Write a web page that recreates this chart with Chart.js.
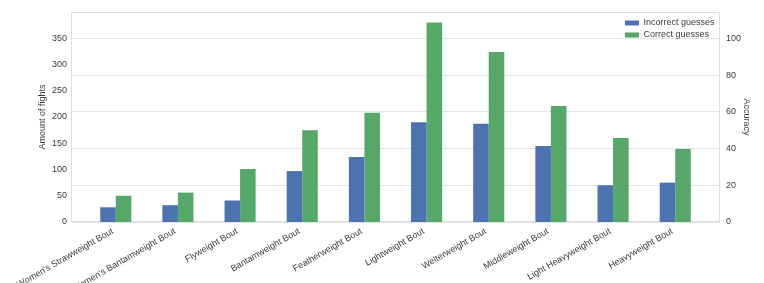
<!DOCTYPE html>
<html>
<head>
<meta charset="utf-8">
<script src="https://cdn.jsdelivr.net/npm/chart.js@4"></script>
<style>
  html, body { margin: 0; padding: 0; background: #fff; }
  canvas { display: block; }
</style>
</head>
<body>
<canvas id="myChart" width="764" height="283"></canvas>
<script>
'use strict'

let bouts = ["Women's Strawweight Bout", "Women's Bantamweight Bout", 'Flyweight Bout', 'Bantamweight Bout',
    'Featherweight Bout', 'Lightweight Bout', 'Welterweight Bout', 'Middleweight Bout',
    'Light Heavyweight Bout', 'Heavyweight Bout'];
let incorrectGuesses = [28, 32, 41, 97, 124, 190, 187, 145, 70, 75];
let correctGuesses = [50, 56, 101, 175, 208, 380, 324, 221, 160, 139];
let fightTicks = [0, 50, 100, 150, 200, 250, 300, 350];
let accuracyTicks = [0, 20, 40, 60, 80, 100];

let textColor = '#3a3a3a';
Chart.defaults.font.family = '"Liberation Sans", Arial, sans-serif';
Chart.defaults.font.size = 9;
Chart.defaults.color = textColor;

function toPoints(values) {
    return values.map((v, i) => ({ x: i, y: v }));
}

// light frame round the plot, like the seaborn style
let framePlugin = {
    id: 'frame',
    beforeDatasetsDraw(chart) {
        let a = chart.chartArea;
        let ctx = chart.ctx;
        ctx.save();
        ctx.strokeStyle = '#dedede';
        ctx.lineWidth = 1;
        ctx.strokeRect(a.left + 0.5, a.top + 0.5, a.right - a.left - 1, a.bottom - a.top - 1);
        ctx.restore();
    }
};

// put the legend in the top right corner of the plot
let legendPlugin = {
    id: 'legendCorner',
    afterLayout(chart) {
        let legend = chart.legend;
        let a = chart.chartArea;
        legend.left = a.right - 98;
        legend.right = legend.left + legend.width;
        legend.top = a.top + 3.5;
    }
};

let ctx = document.getElementById('myChart').getContext('2d');
let myChart = new Chart(ctx, {
    type: 'bar',
    data: {
        datasets: [{
            label: 'Incorrect guesses',
            data: toPoints(incorrectGuesses),
            backgroundColor: '#4c72b0',
            yAxisID: 'y'
        }, {
            label: 'Correct guesses',
            data: toPoints(correctGuesses),
            backgroundColor: '#55a868',
            yAxisID: 'y'
        }]
    },
    plugins: [framePlugin, legendPlugin],
    options: {
        responsive: false,
        animation: false,
        categoryPercentage: 0.5,
        barPercentage: 1,
        layout: { padding: { top: 12, left: 0, right: 0, bottom: 0 } },
        plugins: {
            tooltip: { enabled: false },
            legend: {
                position: 'chartArea',
                align: 'start',
                labels: {
                    boxWidth: 14,
                    boxHeight: 5,
                    padding: 3,
                    color: textColor,
                    font: { size: 9 }
                }
            }
        },
        scales: {
            x: {
                type: 'linear',
                min: -0.72,
                max: 9.72,
                offset: false,
                grid: { display: false, offset: false, drawTicks: false },
                border: { display: false },
                ticks: {
                    autoSkip: false,
                    minRotation: 30,
                    maxRotation: 30,
                    padding: 4,
                    labelOffset: -3,
                    callback: (value) => bouts[value]
                },
                afterBuildTicks: (scale) => {
                    scale.ticks = bouts.map((b, i) => ({ value: i }));
                },
                afterFit: (scale) => {
                    scale.height = 61;
                    scale.paddingLeft = 0;
                    scale.paddingRight = 0;
                }
            },
            y: {
                position: 'left',
                min: 0,
                max: 400,
                grid: { display: false, drawTicks: false },
                border: { display: false },
                ticks: { padding: 4 },
                title: {
                    display: true,
                    text: 'Amount of fights',
                    color: textColor,
                    font: { size: 9 },
                    padding: { top: 37, bottom: 0 }
                },
                afterBuildTicks: (scale) => {
                    scale.ticks = fightTicks.map(v => ({ value: v }));
                },
                afterFit: (scale) => {
                    scale.width = 71;
                    scale.paddingTop = 0;
                    scale.paddingBottom = 0;
                }
            },
            y1: {
                position: 'right',
                min: 0,
                max: 114.5,
                z: 1,
                grid: { color: 'rgba(200, 200, 200, 0.5)', drawTicks: false },
                border: { display: false },
                ticks: { padding: 6 },
                title: {
                    display: true,
                    text: 'Accuracy',
                    color: textColor,
                    font: { size: 9 },
                    padding: { top: 12, bottom: 0 }
                },
                afterBuildTicks: (scale) => {
                    scale.ticks = accuracyTicks.map(v => ({ value: v }));
                },
                afterFit: (scale) => {
                    scale.width = 44;
                    scale.paddingTop = 0;
                    scale.paddingBottom = 0;
                }
            }
        }
    }
});
</script>
</body>
</html>
